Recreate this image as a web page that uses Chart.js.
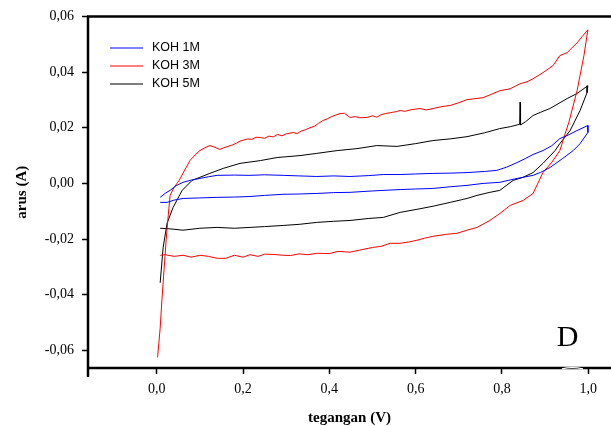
<!DOCTYPE html>
<html>
<head>
<meta charset="utf-8">
<script src="https://cdn.jsdelivr.net/npm/chart.js@4.4.1/dist/chart.umd.min.js"></script>
<style>
  html, body { margin: 0; padding: 0; background: #fff; }
  #wrap { width: 611px; height: 426px; position: relative; }
</style>
</head>
<body>
<div id="wrap"><canvas id="cv"></canvas></div>
<script>
// KOH 1M - forward sweep then back
const koh1mV = [0.008, 0.02, 0.031, 0.045, 0.061, 0.08, 0.1, 0.12, 0.14, 0.18, 0.216, 0.25, 0.293, 0.33, 0.371, 0.41, 0.448, 0.49, 0.525, 0.564, 0.6, 0.64, 0.68, 0.719, 0.76, 0.788, 0.81, 0.835, 0.855, 0.872, 0.895, 0.915, 0.934, 0.955, 0.974, 0.999,
  0.999, 0.99, 0.981, 0.965, 0.941, 0.911, 0.89, 0.872, 0.835, 0.795, 0.756, 0.719, 0.68, 0.64, 0.6, 0.564, 0.5, 0.448, 0.41, 0.371, 0.33, 0.293, 0.25, 0.216, 0.18, 0.14, 0.1, 0.061, 0.04, 0.024, 0.008];
const koh1mI = [-0.005, -0.0035, -0.0025, -0.0008, 0.0004, 0.0012, 0.0018, 0.0024, 0.0029, 0.003, 0.0029, 0.0031, 0.0029, 0.0027, 0.0025, 0.0027, 0.0025, 0.0028, 0.0032, 0.0032, 0.0034, 0.0036, 0.0037, 0.0039, 0.0043, 0.0047, 0.0058, 0.0075, 0.009, 0.0104, 0.0118, 0.0135, 0.0161, 0.0175, 0.019, 0.0208,
  0.0183, 0.0163, 0.0143, 0.0118, 0.009, 0.0057, 0.004, 0.0029, 0.0018, 0.0004, 0.0, -0.0007, -0.0012, -0.0018, -0.002, -0.0022, -0.0027, -0.0032, -0.0033, -0.0036, -0.0038, -0.0039, -0.0043, -0.0047, -0.0049, -0.005, -0.0052, -0.0054, -0.006, -0.0068, -0.0068];

// KOH 3M
const koh3mV = [0.002, 0.008, 0.012, 0.017, 0.022, 0.027, 0.031, 0.04, 0.052, 0.065, 0.077, 0.09, 0.1, 0.11, 0.123, 0.133, 0.146, 0.155, 0.165, 0.175, 0.185, 0.193, 0.2, 0.21, 0.22, 0.23, 0.24, 0.25, 0.26, 0.27, 0.28, 0.29, 0.3, 0.316, 0.325, 0.335, 0.345, 0.355, 0.365, 0.375, 0.385, 0.395, 0.405, 0.415, 0.425, 0.435, 0.448, 0.46, 0.47, 0.487, 0.5, 0.51, 0.52, 0.53, 0.541, 0.555, 0.564, 0.575, 0.59, 0.61, 0.625, 0.64, 0.66, 0.68, 0.7, 0.719, 0.735, 0.756, 0.775, 0.795, 0.819, 0.842, 0.858, 0.872, 0.895, 0.918, 0.934, 0.951, 0.962, 0.974, 0.986, 0.999,
  0.99, 0.974, 0.955, 0.934, 0.915, 0.895, 0.872, 0.849, 0.819, 0.795, 0.772, 0.742, 0.719, 0.696, 0.67, 0.64, 0.62, 0.603, 0.585, 0.564, 0.541, 0.52, 0.5, 0.475, 0.448, 0.42, 0.4, 0.371, 0.35, 0.33, 0.31, 0.293, 0.27, 0.25, 0.235, 0.216, 0.2, 0.18, 0.16, 0.14, 0.12, 0.1, 0.08, 0.061, 0.04, 0.02, 0.008];
const koh3mI = [-0.0625, -0.052, -0.042, -0.031, -0.02, -0.011, -0.0043, -0.0015, 0.0011, 0.0048, 0.0082, 0.0104, 0.0118, 0.0127, 0.0136, 0.0131, 0.0122, 0.0128, 0.0133, 0.0138, 0.0145, 0.0152, 0.0155, 0.016, 0.0158, 0.0166, 0.0165, 0.0162, 0.017, 0.0167, 0.0176, 0.0171, 0.0178, 0.0183, 0.0179, 0.0188, 0.0193, 0.02, 0.0205, 0.0216, 0.0226, 0.0232, 0.024, 0.0246, 0.0251, 0.0252, 0.0237, 0.024, 0.0236, 0.0237, 0.0243, 0.0238, 0.0247, 0.0251, 0.0254, 0.0258, 0.0262, 0.0259, 0.0265, 0.0269, 0.0264, 0.0269, 0.0276, 0.028, 0.029, 0.0301, 0.0304, 0.0308, 0.032, 0.0333, 0.034, 0.0358, 0.0365, 0.0376, 0.0398, 0.0423, 0.0459, 0.047, 0.0487, 0.0505, 0.0528, 0.0552,
  0.046, 0.0333, 0.022, 0.0118, 0.0075, 0.0039, -0.0036, -0.0061, -0.0079, -0.0108, -0.0133, -0.0158, -0.0168, -0.0179, -0.0183, -0.019, -0.0197, -0.0204, -0.021, -0.0215, -0.0215, -0.0226, -0.023, -0.0238, -0.0247, -0.0244, -0.0252, -0.0251, -0.0256, -0.0253, -0.0259, -0.0258, -0.0255, -0.0254, -0.0262, -0.0256, -0.0265, -0.0258, -0.0269, -0.0269, -0.0262, -0.0258, -0.0265, -0.0258, -0.0262, -0.0256, -0.0258];

// KOH 5M
const koh5mV = [0.008, 0.015, 0.024, 0.038, 0.059, 0.082, 0.1, 0.123, 0.154, 0.193, 0.24, 0.279, 0.332, 0.371, 0.418, 0.464, 0.51, 0.557, 0.6, 0.64, 0.68, 0.719, 0.76, 0.795, 0.82, 0.837, 0.841, 0.842, 0.843, 0.855, 0.872, 0.89, 0.911, 0.93, 0.951, 0.974, 0.999,
  0.997, 0.981, 0.958, 0.934, 0.923, 0.895, 0.872, 0.849, 0.826, 0.795, 0.772, 0.742, 0.719, 0.68, 0.64, 0.603, 0.564, 0.525, 0.49, 0.448, 0.41, 0.371, 0.33, 0.293, 0.25, 0.216, 0.18, 0.14, 0.1, 0.061, 0.03, 0.008];
const koh5mI = [-0.0357, -0.0229, -0.0143, -0.0086, -0.0025, 0.0011, 0.0022, 0.0036, 0.0054, 0.0072, 0.0082, 0.0093, 0.01, 0.0108, 0.0118, 0.0125, 0.0136, 0.0133, 0.0143, 0.0154, 0.016, 0.0168, 0.0182, 0.0197, 0.0204, 0.0211, 0.0212, 0.0292, 0.021, 0.0222, 0.0244, 0.0256, 0.0269, 0.0286, 0.0305, 0.0323, 0.0351,
  0.0326, 0.0262, 0.019, 0.0143, 0.0118, 0.0072, 0.0039, 0.0022, 0.0011, -0.0025, -0.0032, -0.0043, -0.0054, -0.0068, -0.0082, -0.0093, -0.0104, -0.0122, -0.0126, -0.0133, -0.0136, -0.014, -0.0147, -0.0151, -0.0155, -0.0158, -0.0161, -0.0158, -0.0161, -0.0168, -0.0163, -0.0161];

const seriesLabels = ['KOH 1M', 'KOH 3M', 'KOH 5M'];
const seriesColors = ['#0000ff', '#ff0000', '#000000'];
const xTicks = [0, 0.2, 0.4, 0.6, 0.8, 1.0];
const yTicks = [-0.06, -0.04, -0.02, 0, 0.02, 0.04, 0.06];

function toPoints(vs, is) {
  return vs.map((v, i) => ({ x: v, y: is[i] }));
}

const serifFont = "'Liberation Serif', 'Times New Roman', serif";
const sansFont = "'Liberation Sans', Arial, sans-serif";

// axes frame, legend and the panel letter
const framePlugin = {
  id: 'frame',
  afterDatasetsDraw(chart) {
    const ctx = chart.ctx;
    const a = chart.chartArea;
    ctx.save();
    ctx.strokeStyle = '#000';
    ctx.lineWidth = 2.5;
    ctx.beginPath();
    ctx.moveTo(a.left, a.top);
    ctx.lineTo(a.left, a.bottom + 9);
    ctx.moveTo(a.left - 1, a.top);
    ctx.lineTo(a.right, a.top);
    ctx.moveTo(a.left - 1, a.bottom);
    ctx.lineTo(a.right, a.bottom);
    ctx.stroke();

    // small break on the bottom axis under the letter
    ctx.strokeStyle = '#fff';
    ctx.lineWidth = 1.2;
    ctx.beginPath();
    ctx.moveTo(562, a.bottom + 0.8);
    ctx.quadraticCurveTo(572, a.bottom - 1.5, 583, a.bottom + 0.8);
    ctx.stroke();

    // legend
    ctx.font = '12.5px ' + sansFont;
    ctx.textBaseline = 'middle';
    ctx.textAlign = 'left';
    chart.data.datasets.forEach((ds, i) => {
      const y = 48 + i * 18;
      ctx.strokeStyle = ds.borderColor;
      ctx.lineWidth = 1;
      ctx.beginPath();
      ctx.moveTo(110, y);
      ctx.lineTo(143, y);
      ctx.stroke();
      ctx.fillStyle = '#000';
      ctx.fillText(ds.label, 152, y);
    });

    ctx.font = '30px ' + serifFont;
    ctx.textAlign = 'center';
    ctx.textBaseline = 'alphabetic';
    ctx.fillText('D', 567.5, 346);
    ctx.restore();
  }
};

new Chart(document.getElementById('cv'), {
  type: 'scatter',
  data: {
    datasets: [
      { label: seriesLabels[0], data: toPoints(koh1mV, koh1mI), borderColor: seriesColors[0] },
      { label: seriesLabels[1], data: toPoints(koh3mV, koh3mI), borderColor: seriesColors[1] },
      { label: seriesLabels[2], data: toPoints(koh5mV, koh5mI), borderColor: seriesColors[2] }
    ].map(ds => Object.assign(ds, { showLine: true, pointRadius: 0, borderWidth: 1, tension: 0, backgroundColor: ds.borderColor }))
  },
  options: {
    responsive: true,
    maintainAspectRatio: false,
    animation: false,
    layout: { padding: { top: 16, right: 0, left: 0, bottom: 0 } },
    plugins: { legend: { display: false }, tooltip: { enabled: false } },
    scales: {
      x: {
        type: 'linear',
        min: -0.1592,
        max: 1.0526,
        afterFit(scale) { scale.height = 58; },
        afterBuildTicks(scale) { scale.ticks = xTicks.map(v => ({ value: v })); },
        border: { display: false },
        grid: { drawOnChartArea: false, drawTicks: true, tickLength: 6, tickColor: '#000', tickWidth: 1.5 },
        ticks: {
          padding: 7,
          color: '#000',
          font: { family: serifFont, size: 14 },
          callback: v => v.toFixed(1).replace('.', ',')
        },
        title: {
          display: true,
          text: 'tegangan (V)',
          color: '#000',
          padding: { top: 0, bottom: 0 },
          font: { family: serifFont, size: 15, weight: 'bold', lineHeight: 1 }
        }
      },
      y: {
        type: 'linear',
        min: -0.0663,
        max: 0.06,
        afterFit(scale) { scale.width = 88; },
        afterBuildTicks(scale) { scale.ticks = yTicks.map(v => ({ value: v })); },
        border: { display: false },
        grid: { drawOnChartArea: false, drawTicks: true, tickLength: 6, tickColor: '#000', tickWidth: 1.5 },
        ticks: {
          padding: 8,
          color: '#000',
          font: { family: serifFont, size: 14 },
          callback: v => v.toFixed(2).replace('.', ',')
        },
        title: {
          display: true,
          text: 'arus (A)',
          color: '#000',
          padding: { top: 15, bottom: 0 },
          font: { family: serifFont, size: 15, weight: 'bold', lineHeight: 1 }
        }
      }
    }
  },
  plugins: [framePlugin]
});
</script>
</body>
</html>
